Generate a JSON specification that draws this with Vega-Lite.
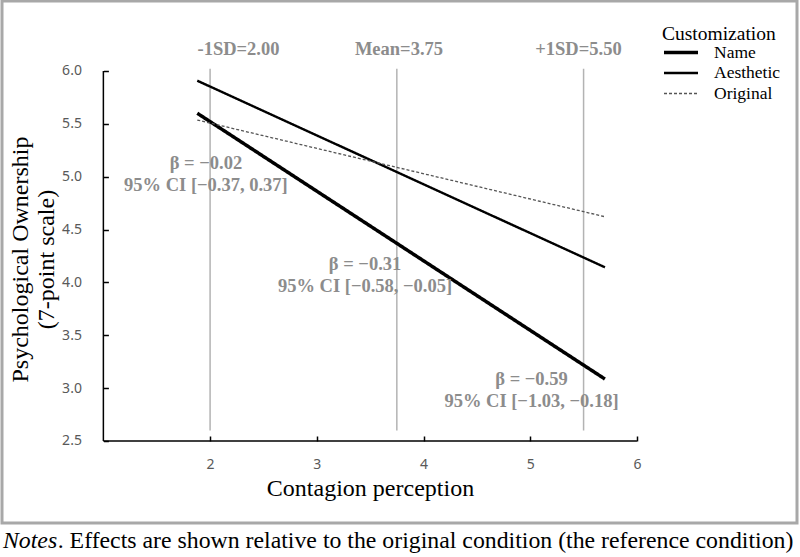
{
  "$schema": "https://vega.github.io/schema/vega-lite/v6.json",
  "width": 795,
  "height": 522,
  "autosize": {"type": "none"},
  "padding": {"left": 2, "top": 1, "right": 3, "bottom": 34},
  "background": "white",
  "config": {
    "view": {"stroke": "#a8a8a8", "strokeWidth": 3},
    "axis": {
      "grid": false,
      "domain": false,
      "tickColor": "black",
      "tickWidth": 1.5,
      "tickSize": -5,
      "labelFont": "Noto Sans",
      "labelFontSize": 14,
      "labelColor": "#595959",
      "titleFont": "Liberation Serif",
      "titleFontWeight": "normal",
      "titleColor": "black"
    },
    "legend": {
      "titleFont": "Liberation Serif",
      "titleFontSize": 19.5,
      "titleFontWeight": "normal",
      "titleColor": "black",
      "labelFont": "Liberation Serif",
      "labelFontSize": 17.5,
      "labelColor": "black",
      "symbolType": "stroke",
      "symbolSize": 1156,
      "labelOffset": 14,
      "clipHeight": 16,
      "rowPadding": 2.5,
      "titlePadding": 0
    }
  },
  "datasets": {
    "fits": [
      {"Customization": "Name", "x": 1.88, "y": 5.60},
      {"Customization": "Name", "x": 5.70, "y": 3.086},
      {"Customization": "Aesthetic", "x": 1.88, "y": 5.908},
      {"Customization": "Aesthetic", "x": 5.70, "y": 4.143},
      {"Customization": "Original", "x": 1.88, "y": 5.536},
      {"Customization": "Original", "x": 5.71, "y": 4.619}
    ],
    "levels": [
      {"name": "-1SD=2.00", "value": 2.00, "label_x": 2.266},
      {"name": "Mean=3.75", "value": 3.75, "label_x": 3.77},
      {"name": "+1SD=5.50", "value": 5.50, "label_x": 5.452}
    ],
    "effects": [
      {"label": "β = −0.02\n95% CI [−0.37, 0.37]", "x": 1.961, "y": 5.13},
      {"label": "β = −0.31\n95% CI [−0.58, −0.05]", "x": 3.452, "y": 4.174},
      {"label": "β = −0.59\n95% CI [−1.03, −0.18]", "x": 5.012, "y": 3.086}
    ],
    "axisLines": [
      {"x": 1, "x2": 1, "y": 2.5, "y2": 6},
      {"x": 1, "x2": 6, "y": 2.5, "y2": 2.5}
    ],
    "notes": [
      {"lead": "Notes", "body": ". Effects are shown relative to the original condition (the reference condition)", "y": 1.488}
    ]
  },
  "layer": [
    {
      "data": {"name": "levels"},
      "mark": {"type": "rule", "color": "#b3b3b3", "strokeWidth": 1.5},
      "encoding": {
        "x": {"field": "value", "type": "quantitative"},
        "y": {"datum": 6.02},
        "y2": {"datum": 2.6}
      }
    },
    {
      "data": {"name": "levels"},
      "mark": {"type": "text", "font": "Liberation Serif", "fontSize": 18.5, "fontWeight": "bold", "color": "#8c8c8c", "align": "center", "baseline": "middle"},
      "encoding": {
        "x": {"field": "label_x", "type": "quantitative"},
        "y": {"datum": 6.208},
        "text": {"field": "name"}
      }
    },
    {
      "data": {"name": "axisLines"},
      "mark": {"type": "rule", "color": "black", "strokeWidth": 1.5},
      "encoding": {
        "x": {"field": "x", "type": "quantitative"},
        "x2": {"field": "x2"},
        "y": {"field": "y", "type": "quantitative"},
        "y2": {"field": "y2"}
      }
    },
    {
      "data": {"name": "fits"},
      "mark": {"type": "line"},
      "encoding": {
        "x": {
          "field": "x",
          "type": "quantitative",
          "scale": {"domain": [0.05, 7.5], "nice": false, "zero": false},
          "axis": {
            "values": [2, 3, 4, 5, 6],
            "format": "d",
            "offset": -82,
            "labelPadding": 21,
            "title": "Contagion perception",
            "titleFontSize": 24,
            "titleX": 368,
            "titleY": 54,
            "titleBaseline": "alphabetic"
          }
        },
        "y": {
          "field": "y",
          "type": "quantitative",
          "scale": {"domain": [1.724, 6.662], "nice": false, "zero": false},
          "axis": {
            "values": [2.5, 3, 3.5, 4, 4.5, 5, 5.5, 6],
            "format": ".1f",
            "offset": -101.4,
            "labelPadding": 27,
            "title": ["Psychological Ownership", "(7-point scale)"],
            "titleFontSize": 24,
            "titleLineHeight": 26,
            "titleX": -83,
            "titleY": 258,
            "titleBaseline": "middle"
          }
        },
        "strokeDash": {
          "field": "Customization",
          "type": "nominal",
          "scale": {"domain": ["Name", "Aesthetic", "Original"], "range": [[1, 0], [1, 0], [3, 2]]},
          "legend": {"title": "Customization", "orient": "none", "legendX": 660, "legendY": 24}
        },
        "strokeWidth": {
          "field": "Customization",
          "type": "ordinal",
          "scale": {"domain": ["Name", "Aesthetic", "Original"], "range": [3.5, 1.3, 1]},
          "legend": {"title": "Customization", "orient": "none", "legendX": 660, "legendY": 24}
        },
        "color": {
          "field": "Customization",
          "type": "nominal",
          "scale": {"domain": ["Name", "Aesthetic", "Original"], "range": ["black", "black", "#555555"]},
          "legend": {"title": "Customization", "orient": "none", "legendX": 660, "legendY": 24}
        }
      }
    },
    {
      "data": {"name": "effects"},
      "mark": {"type": "text", "font": "Liberation Serif", "fontSize": 18.5, "fontWeight": "bold", "color": "#8c8c8c", "align": "center", "baseline": "middle", "lineBreak": "\n", "lineHeight": 22},
      "encoding": {
        "x": {"field": "x", "type": "quantitative"},
        "y": {"field": "y", "type": "quantitative"},
        "text": {"field": "label"}
      }
    },
    {
      "data": {"name": "notes"},
      "mark": {"type": "text", "font": "Liberation Serif", "fontSize": 23.8, "fontStyle": "italic", "color": "black", "align": "left", "baseline": "alphabetic"},
      "encoding": {
        "x": {"datum": 0.059},
        "y": {"field": "y", "type": "quantitative"},
        "text": {"field": "lead"}
      }
    },
    {
      "data": {"name": "notes"},
      "mark": {"type": "text", "font": "Liberation Serif", "fontSize": 23.8, "color": "black", "align": "left", "baseline": "alphabetic"},
      "encoding": {
        "x": {"datum": 0.572},
        "y": {"field": "y", "type": "quantitative"},
        "text": {"field": "body"}
      }
    }
  ]
}
